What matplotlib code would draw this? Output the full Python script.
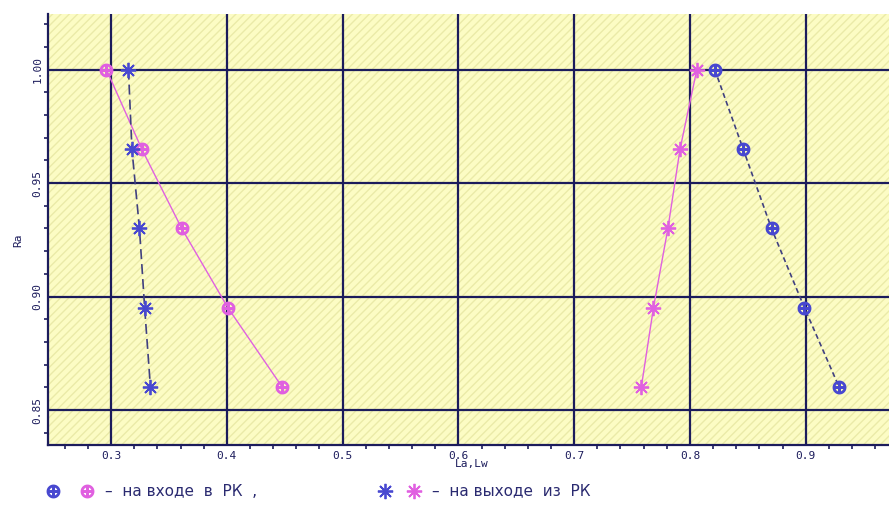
import numpy as np
import matplotlib.pyplot as plt
from matplotlib.lines import Line2D
from matplotlib.ticker import MultipleLocator

# Данные: Ra по оси Y, La/Lw по оси X
ra = [1.00, 0.965, 0.93, 0.895, 0.86]
la_in_left = [0.296, 0.3265, 0.361, 0.401, 0.448]     # на входе, розовые
la_in_right = [0.8215, 0.846, 0.8705, 0.899, 0.929]   # на входе, синие
lw_out_left = [0.315, 0.318, 0.3245, 0.329, 0.334]    # на выходе, синие
lw_out_right = [0.806, 0.7915, 0.781, 0.7685, 0.758]  # на выходе, розовые

xticks = [0.3, 0.4, 0.5, 0.6, 0.7, 0.8, 0.9]
yticks = [0.85, 0.90, 0.95, 1.00]

blue = '#4848d0'
pink = '#e060e0'
navy = '#1c1c5c'
oplus = r'$\oplus$'
aster = (8, 2, 0)

fig = plt.figure(figsize=(8.89, 5.05), dpi=100)
ax = fig.add_axes([48 / 889, 1 - 445 / 505, 1 - 48 / 889, 431 / 505])
ax.set_facecolor('#fcfcc4')
ax.patch.set_hatch('////')
ax.patch.set_edgecolor('#eaeaa8')
ax.patch.set_linewidth(0)

ax.set_xlim(0.2455, 0.972)
ax.set_ylim(0.8346, 1.0245)

ax.grid(True, color=navy, linewidth=1.6)
ax.set_axisbelow(True)

# входные точки
ax.plot(la_in_left, ra, '-', color=pink, lw=1, marker=oplus, ms=9,
        mec=pink, mfc=pink, zorder=3)
ax.plot(la_in_right, ra, '--', color='#404080', lw=1.2, dashes=(3, 2),
        marker=oplus, ms=9, mec=blue, mfc=blue, zorder=3)
# выходные точки
ax.plot(lw_out_left, ra, '--', color='#404080', lw=1.2, dashes=(6, 3),
        marker=aster, ms=11, mec=blue, mew=1.3, zorder=3)
ax.plot(lw_out_right, ra, '-', color=pink, lw=1, marker=aster, ms=11,
        mec=pink, mew=1.3, zorder=3)

ax.xaxis.set_minor_locator(MultipleLocator(0.02))
ax.yaxis.set_minor_locator(MultipleLocator(0.01))
ax.set_xticks(xticks)
ax.set_yticks(yticks)
ax.set_xticklabels(['%.1f' % v for v in xticks], fontsize=8, color=navy,
                   family='DejaVu Sans Mono')
ax.set_yticklabels(['%.2f' % v for v in yticks], fontsize=8, color=navy,
                   family='DejaVu Sans Mono', rotation=90, va='center')
ax.tick_params(which='both', direction='out', color=navy, length=3, width=1.2,
               pad=2)
ax.tick_params(which='major', length=0, pad=4)
for side in ['left', 'bottom']:
    ax.spines[side].set_color(navy)
    ax.spines[side].set_linewidth(1.6)
for side in ['top', 'right']:
    ax.spines[side].set_visible(False)

fig.text(18 / 889, 1 - 240 / 505, 'Ra', rotation=90, fontsize=8, color=navy,
         ha='center', va='center', family='DejaVu Sans Mono')
fig.text(455 / 889, 1 - 464 / 505, 'La,Lw', fontsize=8, color=navy,
         ha='left', va='center', family='DejaVu Sans Mono')

# подпись-легенда снизу
ly = 1 - 491 / 505
for x, c, m in [(53, blue, oplus), (87, pink, oplus)]:
    fig.add_artist(Line2D([x / 889], [ly], marker=m, ms=9, color=c,
                          transform=fig.transFigure))
for x, c in [(385, blue), (414, pink)]:
    fig.add_artist(Line2D([x / 889], [ly], marker=aster, ms=11, mew=1.3,
                          color=c, transform=fig.transFigure))
fig.text(105 / 889, ly, '–  на входе  в  РК  ,', fontsize=11, color='#2a2a70',
         ha='left', va='center')
fig.text(432 / 889, ly, '–  на выходе  из  РК', fontsize=11, color='#2a2a70',
         ha='left', va='center')

fig.savefig('out.png', dpi=100)
